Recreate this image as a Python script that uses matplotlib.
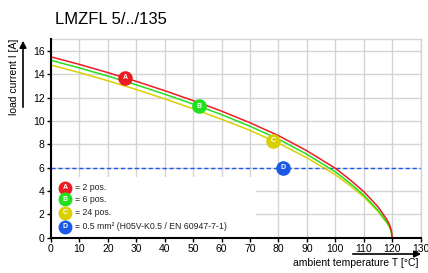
import matplotlib
matplotlib.use("Agg")
import matplotlib.pyplot as plt
from matplotlib.patches import Rectangle, FancyArrowPatch

plt.rcParams["font.family"] = ["Liberation Sans", "DejaVu Sans"]

# derating curves
temp = [0, 10, 20, 30, 40, 50, 60, 70, 80, 90, 100, 105, 110, 115, 118, 119, 119.7, 120]
cur_2pos = [15.5, 14.85, 14.15, 13.4, 12.6, 11.75, 10.85, 9.85, 8.75, 7.45, 5.95, 5.0, 3.95, 2.65, 1.6, 1.15, 0.6, 0]
cur_6pos = [15.2, 14.55, 13.85, 13.1, 12.3, 11.45, 10.55, 9.55, 8.45, 7.15, 5.65, 4.7, 3.65, 2.35, 1.38, 0.98, 0.48, 0]
cur_24pos = [14.8, 14.15, 13.45, 12.7, 11.9, 11.05, 10.15, 9.2, 8.1, 6.85, 5.4, 4.5, 3.5, 2.25, 1.3, 0.92, 0.42, 0]
wire_limit = 6.0

# letter markers on the curves
marker_letters = ["A", "B", "C", "D"]
marker_x = [26, 52, 78, 81.5]
marker_y = [13.7, 11.27, 8.3, 6.0]
legend_texts = ["= 2 pos.", "= 6 pos.", "= 24 pos.", "= 0.5 mm² (H05V-K0.5 / EN 60947-7-1)"]
legend_y = [4.28, 3.29, 2.14, 0.94]

x_ticks = list(range(0, 131, 10))
y_ticks = list(range(0, 17, 2))

red = "#ec1c24"
green = "#22e01e"
yellow = "#d8d000"
blue = "#1a5ae6"
colors = [red, green, yellow, blue]

fig = plt.figure(figsize=(4.28, 2.73), dpi=100)
ax = fig.add_axes([0.119, 0.129, 0.864, 0.727])
ax.set_xlim(0, 130)
ax.set_ylim(0, 17)
ax.set_xticks(x_ticks)
ax.set_yticks(y_ticks)
ax.grid(True, color="#d4d4d4", linewidth=1.0, zorder=0)
ax.set_axisbelow(True)
for side in ["top", "right"]:
    ax.spines[side].set_color("#d4d4d4")
    ax.spines[side].set_linewidth(1.0)
for side in ["left", "bottom"]:
    ax.spines[side].set_linewidth(1.5)
    ax.spines[side].set_zorder(5)
ax.tick_params(direction="out", length=3, width=1, labelsize=7.5, pad=1.5)

# white box behind the legend hides the grid
ax.add_patch(Rectangle((0, 0), 72, 5.2, facecolor="white", edgecolor="none", zorder=1))

ax.axhline(wire_limit, color=blue, linestyle=(0, (3, 2)), linewidth=1.0, zorder=2)
ax.plot(temp, cur_24pos, color=yellow, linewidth=1.1, zorder=3)
ax.plot(temp, cur_6pos, color=green, linewidth=1.1, zorder=3)
ax.plot(temp, cur_2pos, color=red, linewidth=1.1, zorder=3)

for letter, mx, my, c in zip(marker_letters, marker_x, marker_y, colors):
    ax.plot(mx, my, "o", markersize=9.5, color=c, zorder=4)
    ax.text(mx, my, letter, color="white", fontsize=5, fontweight="bold",
            ha="center", va="center", zorder=5)

for letter, ly, txt, c in zip(marker_letters, legend_y, legend_texts, colors):
    ax.plot(4.9, ly, "o", markersize=9, color=c, zorder=4)
    ax.text(4.9, ly, letter, color="white", fontsize=5, fontweight="bold",
            ha="center", va="center", zorder=5)
    ax.text(8.6, ly, txt, fontsize=6.3, ha="left", va="center", color="#222222", zorder=5)

fig.text(0.128, 0.93, "LMZFL 5/../135", fontsize=12, ha="left", va="center")

# axis labels with arrows
fig.text(0.978, 0.037, "ambient temperature T [°C]", fontsize=7.5, ha="right", va="center")
fig.add_artist(FancyArrowPatch(
    (350 / 428, 1 - 254 / 273), (424 / 428, 1 - 254 / 273),
    transform=fig.transFigure, arrowstyle="-|>,head_length=4,head_width=2",
    color="black", linewidth=1.2))
fig.text(0.033, 0.72, "load current I [A]", fontsize=7.5, rotation=90, ha="center", va="center")
fig.add_artist(FancyArrowPatch(
    (23 / 428, 1 - 110 / 273), (23 / 428, 1 - 38 / 273),
    transform=fig.transFigure, arrowstyle="-|>,head_length=4,head_width=2",
    color="black", linewidth=1.2))

fig.savefig("out.png", dpi=100)
